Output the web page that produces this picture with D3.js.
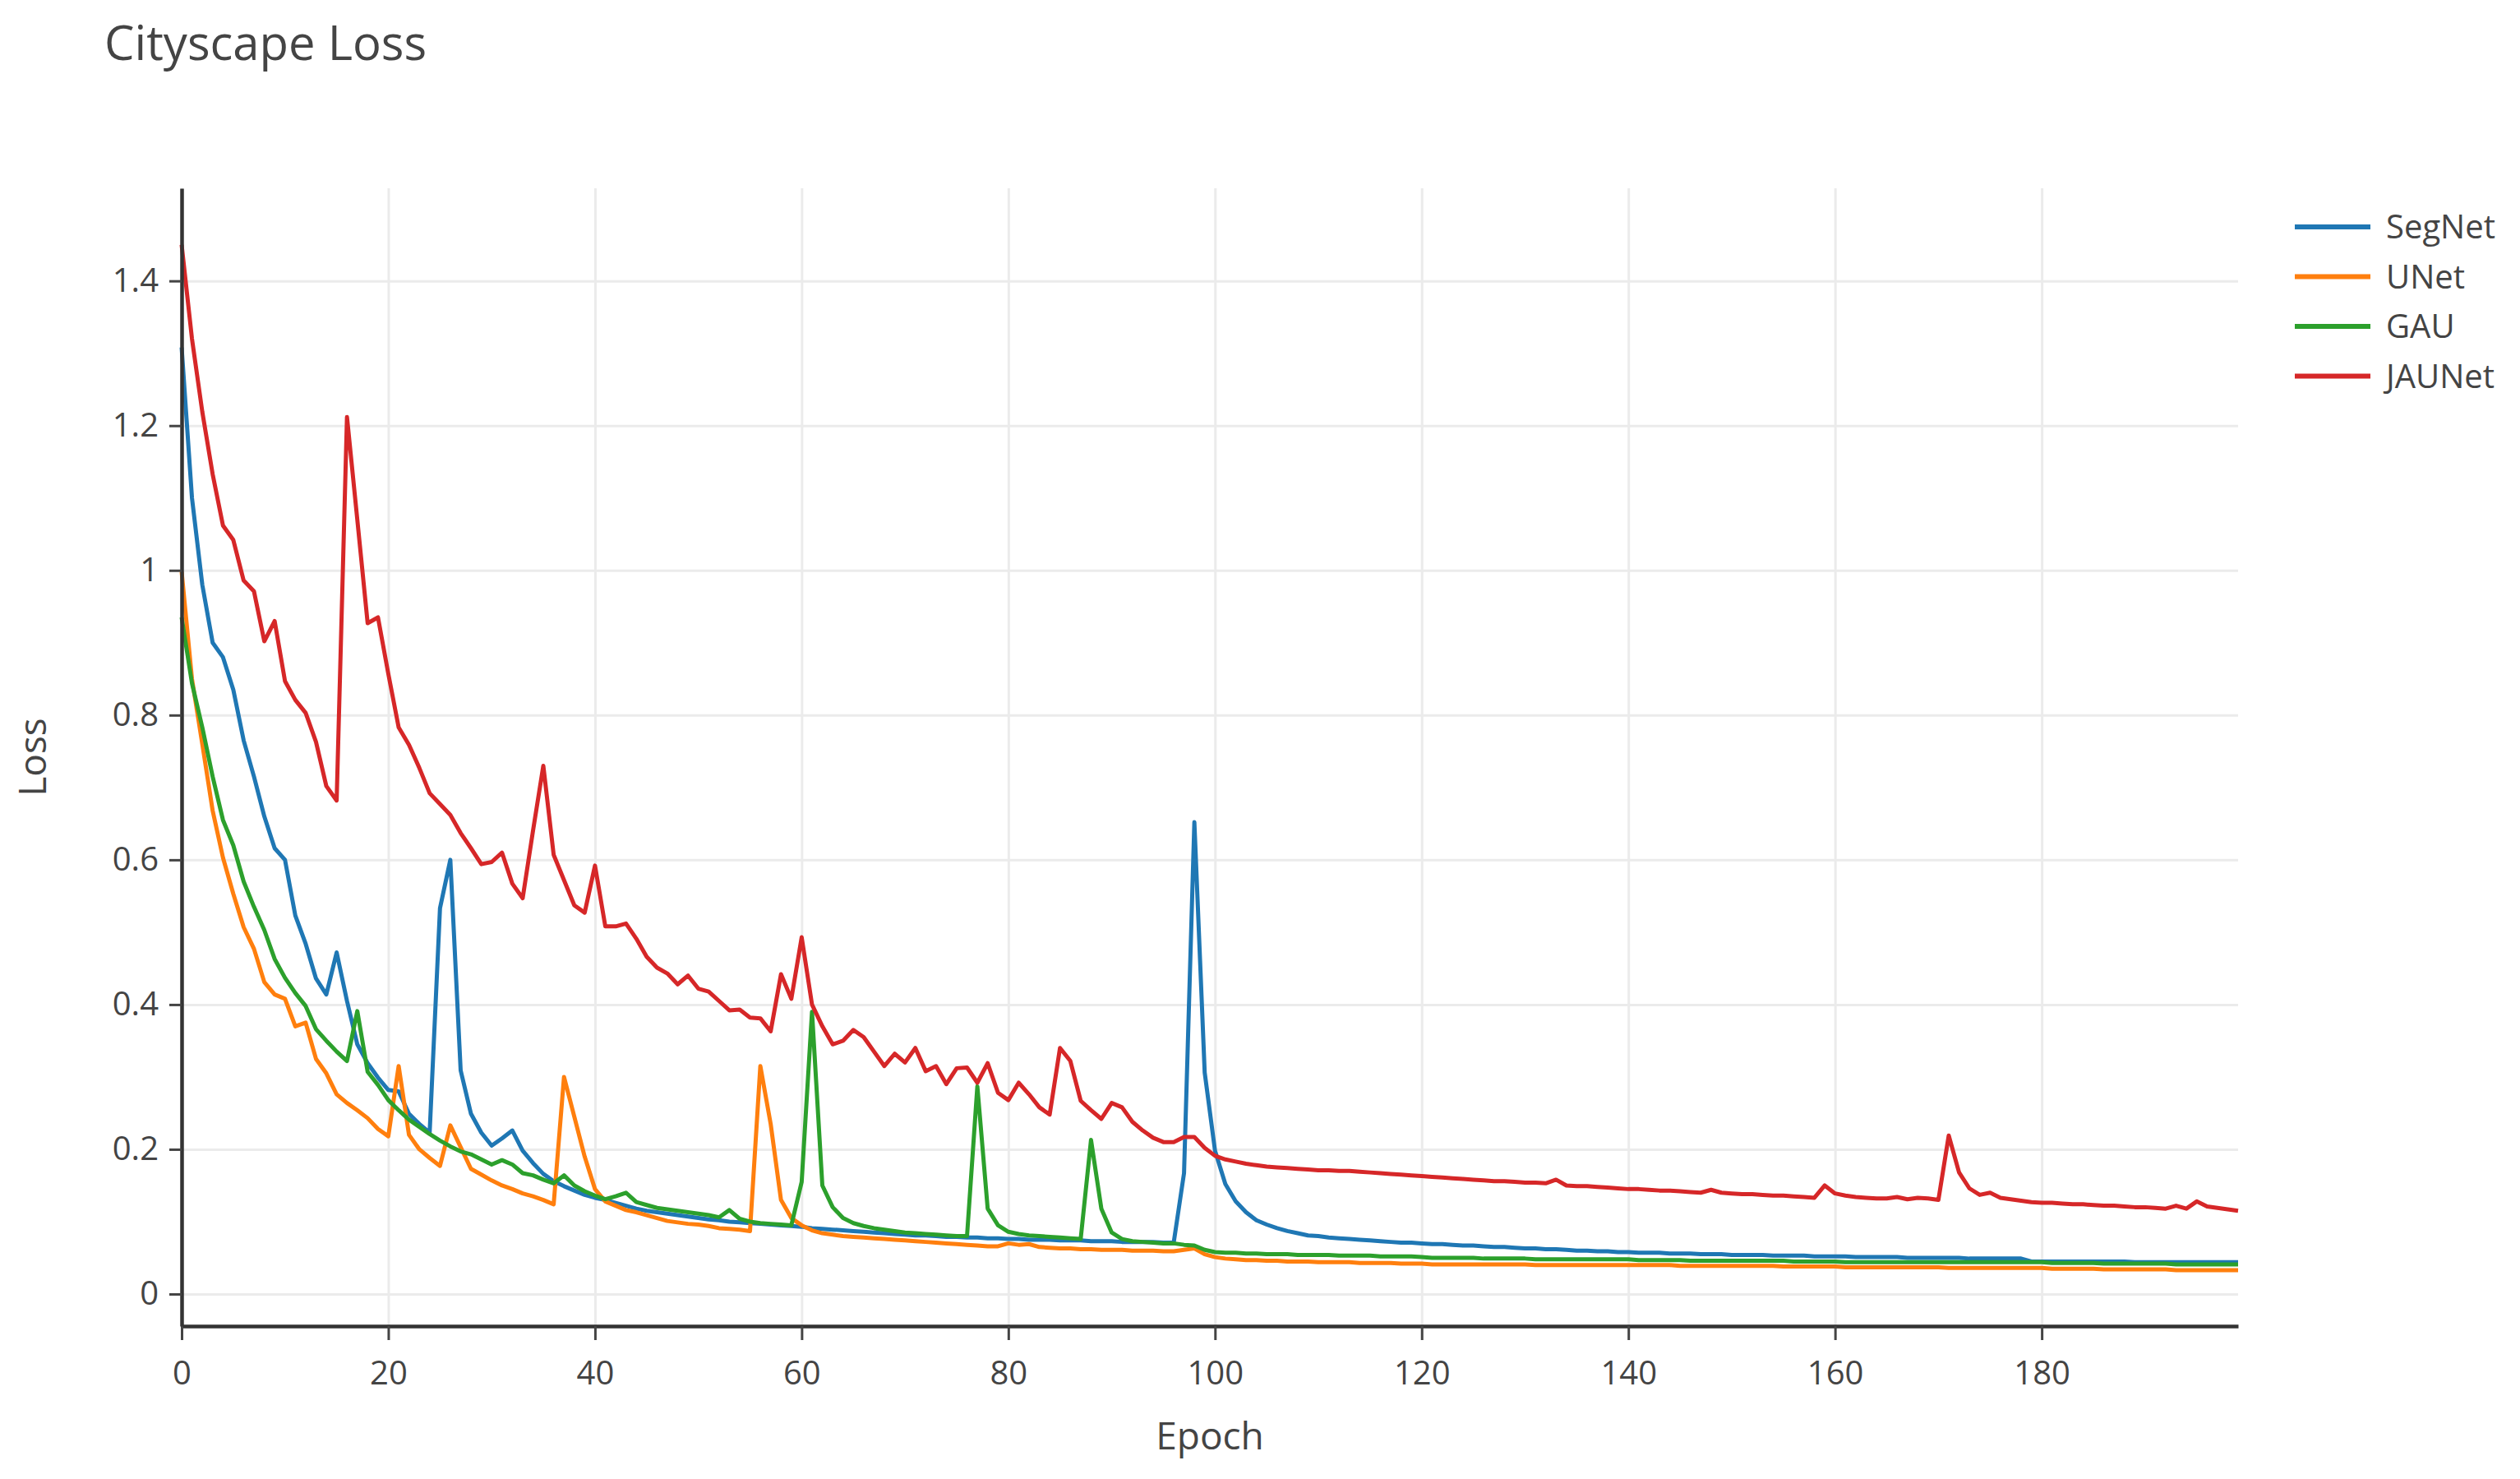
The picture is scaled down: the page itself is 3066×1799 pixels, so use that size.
<!DOCTYPE html>
<html>
<head>
<meta charset="utf-8">
<script src="https://cdn.jsdelivr.net/npm/d3@7"></script>
<style>
  body { margin: 0; background: #fff; }
  text { font-family: "Open Sans", "DejaVu Sans", sans-serif; fill: #444; }
</style>
</head>
<body>
<div class="plot1"></div>
<script>
// one value per epoch, 0..199
var segnet = [
  1.308,1.10,0.98,0.90,0.88,0.835,0.765,0.715,0.66,0.616,
  0.60,0.523,0.484,0.436,0.414,0.472,0.405,0.345,0.319,0.299,
  0.282,0.28,0.249,0.235,0.223,0.533,0.60,0.309,0.249,0.223,
  0.205,0.215,0.226,0.198,0.181,0.166,0.156,0.149,0.143,0.137,
  0.133,0.130,0.126,0.122,0.118,0.115,0.113,0.111,0.109,0.107,
  0.105,0.103,0.102,0.100,0.099,0.098,0.097,0.096,0.095,0.094,
  0.093,0.091,0.090,0.089,0.088,0.087,0.086,0.085,0.084,0.083,
  0.082,0.081,0.081,0.080,0.079,0.079,0.078,0.078,0.077,0.077,
  0.076,0.076,0.075,0.075,0.075,0.074,0.074,0.074,0.073,0.073,
  0.073,0.072,0.072,0.072,0.072,0.071,0.071,0.167,0.652,0.306,
  0.198,0.152,0.128,0.113,0.102,0.096,0.091,0.087,0.084,0.081,
  0.080,0.078,0.077,0.076,0.075,0.074,0.073,0.072,0.071,0.071,
  0.070,0.069,0.069,0.068,0.067,0.067,0.066,0.065,0.065,0.064,
  0.063,0.063,0.062,0.062,0.061,0.060,0.060,0.059,0.059,0.058,
  0.058,0.057,0.057,0.057,0.056,0.056,0.056,0.055,0.055,0.055,
  0.054,0.054,0.054,0.054,0.053,0.053,0.053,0.053,0.052,0.052,
  0.052,0.052,0.051,0.051,0.051,0.051,0.051,0.050,0.050,0.050,
  0.050,0.050,0.050,0.049,0.049,0.049,0.049,0.049,0.049,0.045,
  0.045,0.045,0.045,0.045,0.045,0.045,0.045,0.045,0.045,0.044,
  0.044,0.044,0.044,0.044,0.044,0.044,0.044,0.044,0.044,0.044
];

var unet = [
  0.998,0.85,0.76,0.668,0.603,0.553,0.507,0.477,0.431,0.414,
  0.408,0.370,0.375,0.325,0.305,0.276,0.264,0.254,0.243,0.228,
  0.218,0.315,0.220,0.200,0.188,0.177,0.233,0.203,0.173,0.165,
  0.157,0.150,0.145,0.139,0.135,0.130,0.124,0.300,0.245,0.190,
  0.145,0.128,0.122,0.116,0.113,0.109,0.105,0.101,0.099,0.097,
  0.096,0.094,0.091,0.090,0.089,0.087,0.315,0.235,0.130,0.105,
  0.095,0.088,0.084,0.082,0.080,0.079,0.078,0.077,0.076,0.075,
  0.074,0.073,0.072,0.071,0.070,0.069,0.068,0.067,0.066,0.066,
  0.070,0.068,0.069,0.065,0.064,0.063,0.063,0.062,0.062,0.061,
  0.061,0.061,0.060,0.060,0.060,0.059,0.059,0.061,0.063,0.055,
  0.051,0.049,0.048,0.047,0.047,0.046,0.046,0.045,0.045,0.045,
  0.044,0.044,0.044,0.044,0.043,0.043,0.043,0.043,0.042,0.042,
  0.042,0.041,0.041,0.041,0.041,0.041,0.041,0.041,0.041,0.041,
  0.041,0.040,0.040,0.040,0.040,0.040,0.040,0.040,0.040,0.040,
  0.040,0.040,0.040,0.040,0.040,0.039,0.039,0.039,0.039,0.039,
  0.039,0.039,0.039,0.039,0.039,0.038,0.038,0.038,0.038,0.038,
  0.038,0.037,0.037,0.037,0.037,0.037,0.037,0.037,0.037,0.037,
  0.037,0.036,0.036,0.036,0.036,0.036,0.036,0.036,0.036,0.036,
  0.036,0.035,0.035,0.035,0.035,0.035,0.034,0.034,0.034,0.034,
  0.034,0.034,0.034,0.033,0.033,0.033,0.033,0.033,0.033,0.033
];

var gau = [
  0.935,0.844,0.783,0.715,0.655,0.620,0.570,0.535,0.503,0.463,
  0.437,0.416,0.398,0.366,0.350,0.335,0.322,0.391,0.307,0.289,
  0.268,0.254,0.241,0.231,0.221,0.212,0.204,0.197,0.193,0.186,
  0.179,0.185,0.179,0.167,0.164,0.158,0.153,0.164,0.150,0.142,
  0.136,0.131,0.135,0.140,0.127,0.123,0.119,0.117,0.115,0.113,
  0.111,0.109,0.106,0.116,0.104,0.100,0.098,0.097,0.096,0.095,
  0.155,0.390,0.150,0.120,0.105,0.098,0.094,0.091,0.089,0.087,
  0.085,0.084,0.083,0.082,0.081,0.080,0.080,0.287,0.118,0.095,
  0.086,0.083,0.081,0.080,0.079,0.078,0.077,0.076,0.213,0.118,
  0.085,0.076,0.073,0.072,0.071,0.070,0.070,0.068,0.067,0.061,
  0.058,0.057,0.057,0.056,0.056,0.055,0.055,0.055,0.054,0.054,
  0.054,0.054,0.053,0.053,0.053,0.053,0.052,0.052,0.052,0.052,
  0.051,0.050,0.050,0.050,0.050,0.050,0.049,0.049,0.049,0.049,
  0.049,0.048,0.048,0.048,0.048,0.048,0.048,0.048,0.048,0.048,
  0.048,0.047,0.047,0.047,0.047,0.047,0.046,0.046,0.046,0.046,
  0.046,0.046,0.046,0.046,0.046,0.046,0.045,0.045,0.045,0.045,
  0.045,0.044,0.044,0.044,0.044,0.044,0.044,0.044,0.044,0.044,
  0.044,0.044,0.044,0.044,0.044,0.044,0.044,0.044,0.044,0.044,
  0.044,0.043,0.043,0.043,0.043,0.043,0.042,0.042,0.042,0.042,
  0.042,0.042,0.042,0.041,0.041,0.041,0.041,0.041,0.041,0.041
];

var jaunet = [
  1.450,1.320,1.219,1.133,1.062,1.042,0.986,0.971,0.902,0.930,
  0.847,0.821,0.803,0.763,0.702,0.682,1.212,1.070,0.927,0.935,
  0.857,0.783,0.759,0.727,0.692,0.677,0.662,0.637,0.616,0.594,
  0.597,0.610,0.567,0.547,0.640,0.730,0.607,0.572,0.537,0.527,
  0.592,0.508,0.508,0.512,0.491,0.466,0.451,0.443,0.428,0.440,
  0.422,0.418,0.405,0.392,0.393,0.382,0.381,0.363,0.442,0.408,
  0.493,0.400,0.370,0.345,0.350,0.365,0.355,0.335,0.315,0.332,
  0.320,0.340,0.308,0.315,0.290,0.312,0.313,0.292,0.319,0.278,
  0.268,0.292,0.276,0.258,0.248,0.340,0.322,0.267,0.254,0.242,
  0.264,0.258,0.238,0.226,0.216,0.210,0.210,0.217,0.217,0.202,
  0.191,0.186,0.183,0.180,0.178,0.176,0.175,0.174,0.173,0.172,
  0.171,0.171,0.170,0.170,0.169,0.168,0.167,0.166,0.165,0.164,
  0.163,0.162,0.161,0.160,0.159,0.158,0.157,0.156,0.156,0.155,
  0.154,0.154,0.153,0.158,0.150,0.149,0.149,0.148,0.147,0.146,
  0.145,0.145,0.144,0.143,0.143,0.142,0.141,0.140,0.144,0.140,
  0.139,0.138,0.138,0.137,0.136,0.136,0.135,0.134,0.133,0.150,
  0.139,0.136,0.134,0.133,0.132,0.132,0.134,0.131,0.133,0.132,
  0.130,0.219,0.168,0.146,0.137,0.140,0.133,0.131,0.129,0.127,
  0.126,0.126,0.125,0.124,0.124,0.123,0.122,0.122,0.121,0.120,
  0.120,0.119,0.118,0.122,0.118,0.128,0.121,0.119,0.117,0.115
];

var seriesNames = ["SegNet", "UNet", "GAU", "JAUNet"];
var seriesColors = ["#1f77b4", "#ff7f0e", "#2ca02c", "#d62728"];
var xTicks = [0, 20, 40, 60, 80, 100, 120, 140, 160, 180];
var yTicks = [0, 0.2, 0.4, 0.6, 0.8, 1, 1.2, 1.4];

var width = 3066, height = 1799;
// plot box (window.top is reserved, so no bare "top" here)
var padL = 221, padR = 2723, padT = 229, padB = 1613;

var svg = d3.select(".plot1").append("svg")
  .attr("width", width)
  .attr("height", height);

svg.append("rect")
  .attr("width", width)
  .attr("height", height)
  .attr("fill", "#fff");

var x = d3.scaleLinear().domain([0, 199]).range([padL, padR]);
var y = d3.scaleLinear().domain([-0.0443, 1.528]).range([padB, padT]);

// grid
svg.append("g")
  .attr("transform", "translate(0," + padB + ")")
  .call(d3.axisBottom(x).tickValues(xTicks).tickSize(-(padB - padT)).tickFormat(""))
  .call(function(g) {
    g.select(".domain").remove();
    g.selectAll("line").attr("stroke", "#ebebeb").attr("stroke-width", 3);
  });

svg.append("g")
  .attr("transform", "translate(" + padL + ",0)")
  .call(d3.axisLeft(y).tickValues(yTicks).tickSize(-(padR - padL)).tickFormat(""))
  .call(function(g) {
    g.select(".domain").remove();
    g.selectAll("line").attr("stroke", "#ebebeb").attr("stroke-width", 3);
  });

// lines
var allSeries = [segnet, unet, gau, jaunet];
var line = d3.line()
  .x(function(d, i) { return x(i); })
  .y(function(d) { return y(d); });

svg.selectAll("path.trace")
  .data(allSeries)
  .enter()
  .append("path")
  .attr("class", "trace")
  .attr("d", line)
  .attr("fill", "none")
  .attr("stroke", function(d, i) { return seriesColors[i]; })
  .attr("stroke-width", 5)
  .attr("stroke-linejoin", "round");

// axes
svg.append("g")
  .attr("transform", "translate(0," + padB + ")")
  .call(d3.axisBottom(x).tickValues(xTicks).tickSize(17).tickSizeOuter(0).tickPadding(26))
  .call(function(g) {
    g.select(".domain").attr("stroke", "#333").attr("stroke-width", 4.5);
    g.selectAll("line").attr("stroke", "#444").attr("stroke-width", 3);
    g.selectAll("text").attr("font-size", 40).attr("fill", "#444")
      .style("font-family", "'Open Sans', sans-serif");
  });

svg.append("g")
  .attr("transform", "translate(" + padL + ",0)")
  .call(d3.axisLeft(y).tickValues(yTicks).tickSize(15).tickSizeOuter(0).tickPadding(13)
    .tickFormat(function(d) { return String(+d.toFixed(1)); }))
  .call(function(g) {
    g.select(".domain").attr("stroke", "#333").attr("stroke-width", 4.5);
    g.selectAll("line").attr("stroke", "#444").attr("stroke-width", 3);
    g.selectAll("text").attr("font-size", 40).attr("fill", "#444")
      .style("font-family", "'Open Sans', sans-serif");
  });

// titles
svg.append("text")
  .attr("x", 127)
  .attr("y", 73)
  .attr("font-size", 58)
  .text("Cityscape Loss");

svg.append("text")
  .attr("x", (padL + padR) / 2)
  .attr("y", 1763)
  .attr("text-anchor", "middle")
  .attr("font-size", 46)
  .text("Epoch");

svg.append("text")
  .attr("transform", "translate(56," + ((padT + padB) / 2) + ") rotate(-90)")
  .attr("text-anchor", "middle")
  .attr("font-size", 46)
  .text("Loss");

// legend
var legend = svg.selectAll("g.legend")
  .data(seriesNames)
  .enter()
  .append("g")
  .attr("class", "legend")
  .attr("transform", function(d, i) { return "translate(2792," + (276 + i * 60.5) + ")"; });

legend.append("line")
  .attr("x1", 0)
  .attr("x2", 92)
  .attr("stroke", function(d, i) { return seriesColors[i]; })
  .attr("stroke-width", 6);

legend.append("text")
  .attr("x", 111)
  .attr("dy", "0.35em")
  .attr("font-size", 40)
  .text(function(d) { return d; });
</script>
</body>
</html>
